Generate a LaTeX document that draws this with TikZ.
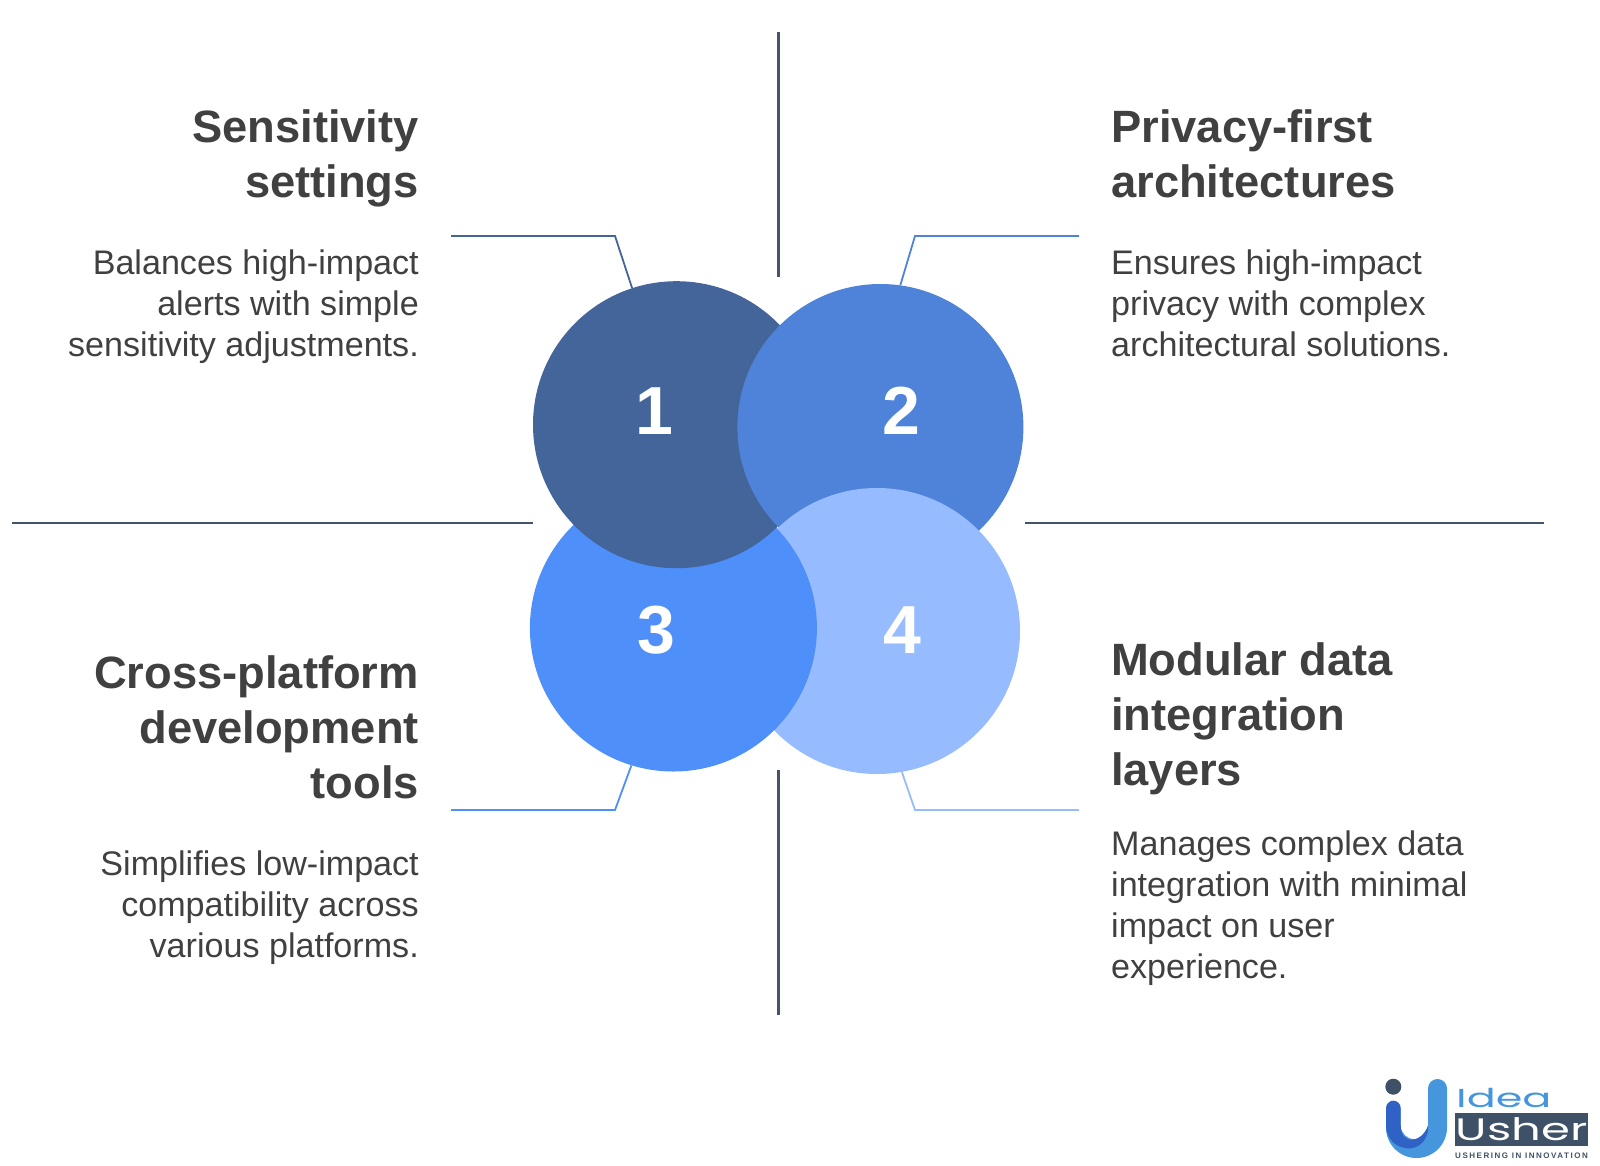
\documentclass[tikz,border=0pt]{standalone}
\usepackage{fontspec}
\setmainfont{Liberation Sans}
\newfontfamily\logofont{Poppins}
\newfontfamily\tagfont[LetterSpace=19]{Liberation Sans}
\definecolor{inkgray}{HTML}{404040}
\definecolor{rulegray}{HTML}{44546A}
\definecolor{blueone}{HTML}{44659A}
\definecolor{bluetwo}{HTML}{4F83D9}
\definecolor{bluethree}{HTML}{4F8FF9}
\definecolor{bluefour}{HTML}{96BCFF}
\definecolor{logodark}{HTML}{3E5166}
\definecolor{logolight}{HTML}{4596DC}
\definecolor{logoblue}{HTML}{2F62C4}
\tikzset{
headl/.style={anchor=base east,align=right,inner sep=0pt,text=inkgray,font=\fontsize{45.3}{55}\selectfont\bfseries},
headr/.style={anchor=base west,align=left,inner sep=0pt,text=inkgray,font=\fontsize{45.3}{55}\selectfont\bfseries},
bodyl/.style={anchor=base east,align=right,inner sep=0pt,text=inkgray,font=\fontsize{34.1}{41}\selectfont},
bodyr/.style={anchor=base west,align=left,inner sep=0pt,text=inkgray,font=\fontsize{34.1}{41}\selectfont},
disc/.style={circle,minimum size=287pt,inner sep=0pt,fill=#1},
num/.style={inner sep=0pt,text=white,font=\fontsize{68}{68}\selectfont\bfseries},
}
\begin{document}
\begin{tikzpicture}[x=1pt,y=-1pt]
\useasboundingbox (0,0) rectangle (1600,1165);
% axis rules
\coordinate (ruletop) at (778.5,31.5);
\coordinate (rulemidt) at (778.5,276.5);
\coordinate (rulemidb) at (778.5,769.5);
\coordinate (rulebot) at (778.5,1015);
\coordinate (ruleleft) at (12,523);
\coordinate (rulecl) at (532.5,523);
\coordinate (rulecr) at (1025,523);
\coordinate (ruleright) at (1544,523);
\draw[rulegray,line width=2.4pt] (ruletop) -- (rulemidt);
\draw[rulegray,line width=2.4pt] (rulemidb) -- (rulebot);
\draw[rulegray,line width=2.4pt] (ruleleft) -- (rulecl);
\draw[rulegray,line width=2.4pt] (rulecr) -- (ruleright);
% discs
\node[disc=blueone] (circ1) at (676.5,424.7) {};
\node[disc=bluetwo,minimum size=286pt] (circ2) at (880.4,427) {};
\node[disc=bluefour,minimum size=286pt] (circ4) at (877,631) {};
\node[disc=bluethree] (circ3) at (673.4,628) {};
\begin{scope}
\clip (circ3.center) circle (144.5pt);
\fill[blueone] (circ1.center) circle (143.5pt);
\end{scope}
% leader lines
\coordinate (lead1a) at (451,236);
\coordinate (lead1b) at (615,236);
\coordinate (lead2a) at (1079,236);
\coordinate (lead2b) at (915,236);
\coordinate (lead3a) at (451,810);
\coordinate (lead3b) at (615,810);
\coordinate (lead4a) at (1079,810);
\coordinate (lead4b) at (915,810);
\draw[blueone,line width=1.8pt] (lead1a) -- (lead1b) -- (circ1.108);
\draw[bluetwo,line width=1.8pt] (lead2a) -- (lead2b) -- (circ2.82);
\draw[bluethree,line width=1.8pt] (lead3a) -- (lead3b) -- (circ3.-107);
\draw[bluefour,line width=1.8pt] (lead4a) -- (lead4b) -- (circ4.-80);
% numbers
\node[num] (num1) at (654,411) {1};
\node[num] (num2) at (901,411) {2};
\node[num] (num3) at (656,630) {3};
\node[num] (num4) at (902,630) {4};
% texts
\node[headl] (head1) at (419,197) {Sensitivity\\settings};
\node[bodyl] (body1) at (419,356) {Balances high-impact\\alerts with simple\\sensitivity adjustments.};
\node[headr] (head2) at (1111,197) {Privacy-first\\architectures};
\node[bodyr] (body2) at (1111,356) {Ensures high-impact\\privacy with complex\\architectural solutions.};
\node[headl] (head3) at (419,798) {Cross-platform\\development\\tools};
\node[bodyl] (body3) at (419,957.5) {Simplifies low-impact\\compatibility across\\various platforms.};
\node[headr] (head4) at (1111,785) {Modular data\\integration\\layers};
\node[bodyr] (body4) at (1111,978) {Manages complex data\\integration with minimal\\impact on user\\experience.};
% logo
\fill[logolight] (1428,1088.5) arc (180:360:9.5) -- (1447,1127.5) arc (0:180:30.5) -- (1386,1108) -- (1400.7,1108) -- (1400.7,1125.5) arc (180:0:13.65) -- cycle;
\fill[logoblue] (1386,1108) arc (180:360:7.35) -- (1400.7,1125.5) .. controls (1400.7,1146) and (1422,1143) .. (1428,1125.5) -- (1428,1130) .. controls (1426,1146) and (1412,1150) .. (1405,1148) .. controls (1392,1146) and (1386,1135) .. (1386,1125) -- cycle;
\fill[logodark] (1393.3,1086.7) circle (8pt);
\node[inner sep=0pt,anchor=base west,text=logolight] (logoidea) at (1456,1107.5) {\logofont\fontsize{26}{26}\selectfont\scalebox{1.65}[1]{Idea}};
\node[fill=logodark,inner sep=0pt,minimum width=133pt,minimum height=33.5pt,anchor=north west] (logobox) at (1455,1112.7) {};
\node[inner sep=0pt,text=white] (logousher) at (logobox.center) {\logofont\fontsize{31}{31}\selectfont\scalebox{1.5}[1]{Usher}};
\node[inner sep=0pt,anchor=base west,text=logodark] (logotag) at (1455,1158) {\tagfont\fontsize{8}{8}\selectfont\bfseries USHERING IN INNOVATION};
\end{tikzpicture}
\end{document}
